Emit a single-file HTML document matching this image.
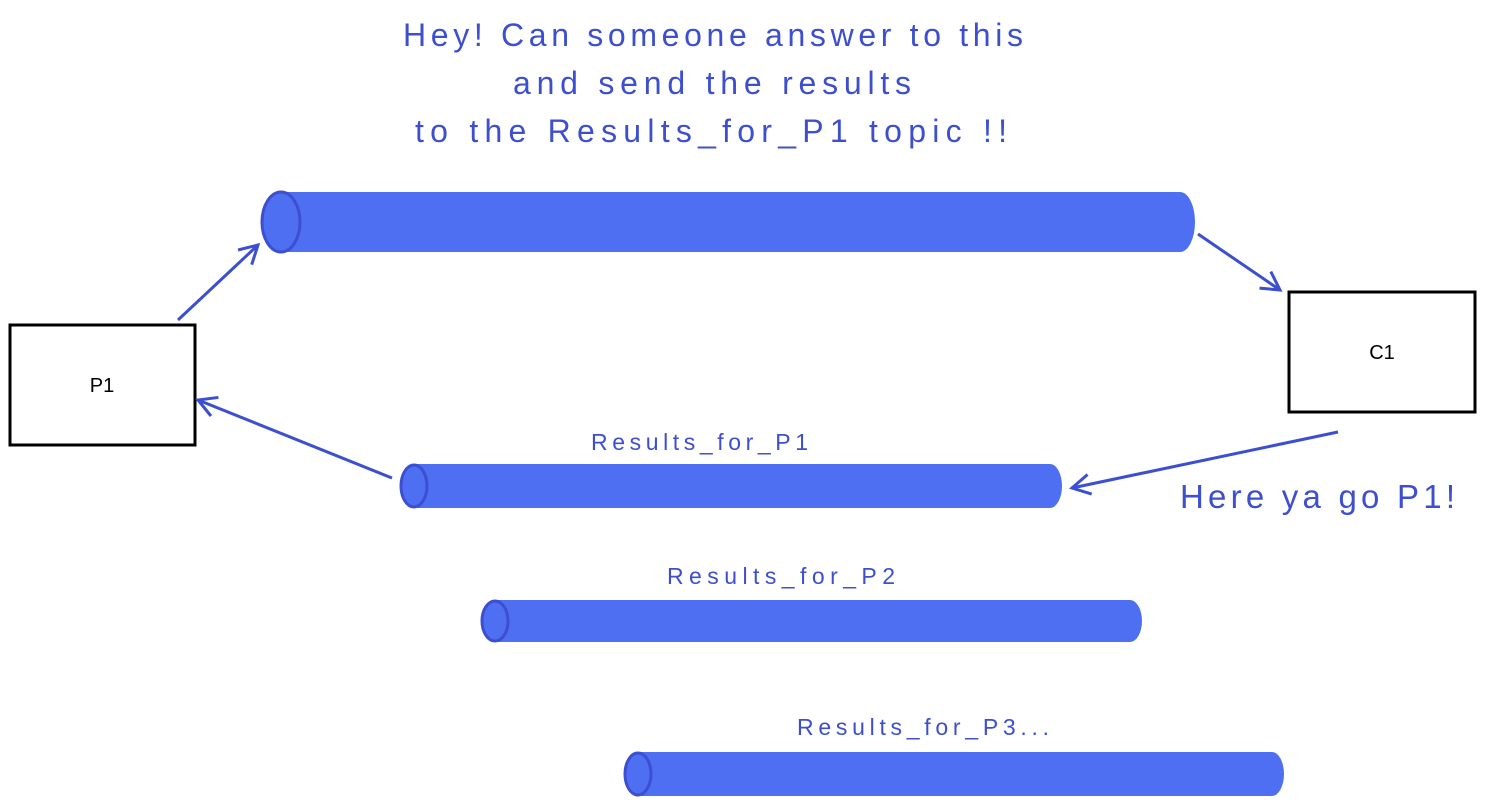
<!DOCTYPE html>
<html><head><meta charset="utf-8"><style>
body{margin:0;background:#fff;}
svg{display:block}
text{font-family:"Liberation Sans",sans-serif;fill:#3d4fcf;}
</style></head><body>
<svg width="1485" height="805" viewBox="0 0 1485 805" xmlns="http://www.w3.org/2000/svg">
<defs><marker id="a" markerWidth="24" markerHeight="24" refX="20" refY="12" orient="auto" markerUnits="userSpaceOnUse" viewBox="0 0 24 24"><path d="M2,2 L20,12 L2,22" fill="none" stroke="#3b4fd0" stroke-width="3"/></marker></defs>
<g font-size="32">
<text x="403" y="46" textLength="620" lengthAdjust="spacing">Hey! Can someone answer to this</text>
<text x="513" y="94" textLength="398" lengthAdjust="spacing">and send the results</text>
<text x="415" y="142" textLength="592" lengthAdjust="spacing">to the Results_for_P1 topic !!</text>
</g>
<g fill="#4f6ff2" stroke="#3b4fd0" stroke-width="3">
<path d="M281,192 H1180 A15,30 0 0 1 1180,252 H281 Z" stroke="none"/>
<ellipse cx="281" cy="222" rx="19" ry="30"/>
<path d="M414,464 H1050 A12,22 0 0 1 1050,508 H414 Z" stroke="none"/>
<ellipse cx="414" cy="486" rx="13" ry="21"/>
<path d="M495,600 H1130 A12,21 0 0 1 1130,642 H495 Z" stroke="none"/>
<ellipse cx="495" cy="621" rx="13" ry="20"/>
<path d="M638,752 H1272 A12,22 0 0 1 1272,796 H638 Z" stroke="none"/>
<ellipse cx="638" cy="774" rx="13" ry="21"/>
</g>
<rect x="10" y="325" width="185" height="120" fill="none" stroke="#000" stroke-width="3"/>
<rect x="1289" y="292" width="186" height="120" fill="none" stroke="#000" stroke-width="3"/>
<text x="102" y="392" font-size="20" text-anchor="middle" style="fill:#000">P1</text>
<text x="1382" y="359" font-size="20" text-anchor="middle" style="fill:#000">C1</text>
<g stroke="#3b4fd0" stroke-width="3" fill="none" marker-end="url(#a)">
<line x1="178" y1="320" x2="258" y2="245"/>
<line x1="1198" y1="234" x2="1280" y2="290"/>
<line x1="392" y1="478" x2="198" y2="400"/>
<line x1="1338" y1="432" x2="1072" y2="488"/>
</g>
<g font-size="23">
<text x="591" y="450" textLength="217" lengthAdjust="spacing">Results_for_P1</text>
<text x="667" y="584" textLength="228" lengthAdjust="spacing">Results_for_P2</text>
<text x="797" y="735" textLength="252" lengthAdjust="spacing">Results_for_P3...</text>
</g>
<text x="1180" y="508" font-size="33" textLength="275" lengthAdjust="spacing">Here ya go P1!</text>
</svg>
</body></html>
